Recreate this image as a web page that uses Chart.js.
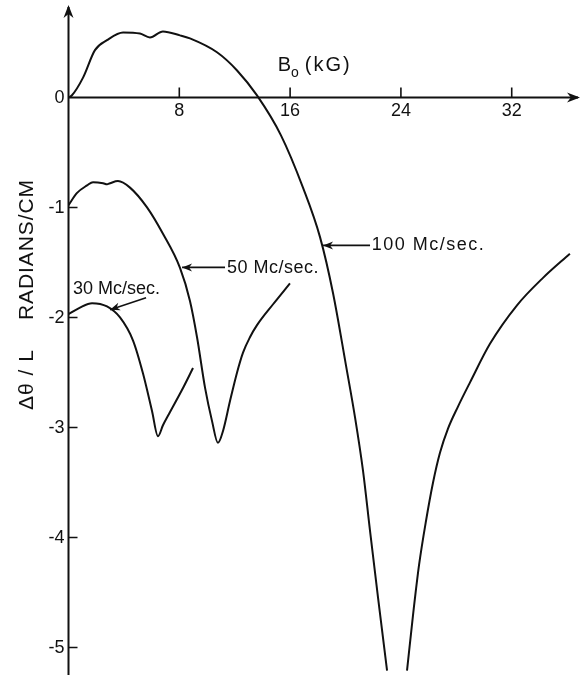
<!DOCTYPE html>
<html>
<head>
<meta charset="utf-8">
<script src="https://cdn.jsdelivr.net/npm/chart.js@4"></script>
<style>
  html, body { margin: 0; padding: 0; background: #fff; }
  canvas { display: block; }
</style>
</head>
<body>
<canvas id="chart" width="582" height="679"></canvas>
<script>
// B0 in kG against rotation per unit length (radians/cm)
const b30 = [0, 0.83, 1.7, 2.78, 3.72, 4.66, 5.38, 6.03, 6.46, 6.82, 7.33, 8.19, 8.99];
const rot30 = [-1.97, -1.91, -1.87, -1.9, -2.0, -2.21, -2.51, -2.85, -3.08, -2.98, -2.86, -2.66, -2.46];

const b50 = [0, 0.6, 1.34, 1.77, 2.5, 2.78, 3.0, 3.57, 4.44, 5.67, 6.82, 8.05, 8.77, 9.28, 9.86, 10.36, 10.79, 11.16, 11.66, 12.17, 12.6, 13.1, 13.61, 14.77, 15.99];
const rot50 = [-0.98, -0.87, -0.8, -0.77, -0.78, -0.79, -0.78, -0.76, -0.82, -1.0, -1.24, -1.55, -1.85, -2.18, -2.64, -2.94, -3.14, -3.03, -2.76, -2.5, -2.32, -2.18, -2.07, -1.88, -1.69];

// null marks the break where the curve runs off the bottom
const b100 = [0, 0.25, 1.05, 1.91, 2.78, 3.94, 5.16, 5.88, 6.82, 8.05, 8.77, 10.72, 12.17, 13.61, 15.34, 16.93, 18.16, 19.1, 20.04, 20.69, 21.26, 21.77, 22.35, 23.0, 23.7, 24.44, 24.87, 25.31, 25.81, 26.32, 26.82, 27.4, 28.12, 28.99, 30.43, 32.38, 34.26, 36.2];
const rot100 = [0, 0.02, 0.18, 0.43, 0.52, 0.59, 0.58, 0.545, 0.6, 0.564, 0.536, 0.41, 0.245, 0.018, -0.345, -0.82, -1.27, -1.78, -2.44, -2.91, -3.39, -3.94, -4.55, -5.21, null, -5.21, -4.71, -4.25, -3.85, -3.5, -3.23, -3.01, -2.81, -2.59, -2.24, -1.89, -1.64, -1.42];

const xTicks = [8, 16, 24, 32];
const yTicks = [0, -1, -2, -3, -4, -5];

// curve labels: text anchor and leader arrow, in data units
const curveLabels = [
  { text: '30 Mc/sec.', at: [0.33, -1.74], from: [5.6, -1.82], to: [3.0, -1.93], spacing: 0 },
  { text: '50 Mc/sec.', at: [11.45, -1.555], from: [11.3, -1.545], to: [8.2, -1.545], spacing: 0.5 },
  { text: '100 Mc/sec.', at: [21.9, -1.345], from: [21.77, -1.345], to: [18.38, -1.345], spacing: 1.5 }
];

const ink = '#111';
const font = '"Liberation Sans", Arial, sans-serif';

function points(xs, ys) {
  return xs.map((x, i) => ({ x: x, y: ys[i] }));
}

function arrowHead(ctx, x, y, angle, len, half) {
  ctx.save();
  ctx.translate(x, y);
  ctx.rotate(angle);
  ctx.beginPath();
  ctx.moveTo(0, 0);
  ctx.lineTo(-len, -half);
  ctx.lineTo(-len * 0.7, 0);
  ctx.lineTo(-len, half);
  ctx.closePath();
  ctx.fill();
  ctx.restore();
}

// write text so that it fills a given length, by spreading the letters
function fitText(ctx, text, x, y, len) {
  ctx.letterSpacing = '0px';
  const w = ctx.measureText(text).width;
  ctx.letterSpacing = ((len - w) / (text.length - 1)) + 'px';
  ctx.fillText(text, x, y);
  ctx.letterSpacing = '0px';
}

const axesPlugin = {
  id: 'hand-axes',
  afterDatasetsDraw(chart) {
    const ctx = chart.ctx;
    const xs = chart.scales.x, ys = chart.scales.y;
    const area = chart.chartArea;
    const x0 = xs.getPixelForValue(0), y0 = ys.getPixelForValue(0);
    ctx.save();
    ctx.strokeStyle = ink;
    ctx.fillStyle = ink;
    ctx.lineWidth = 2;

    // axis lines
    ctx.beginPath();
    ctx.moveTo(x0, area.bottom);
    ctx.lineTo(x0, area.top + 2);
    ctx.moveTo(x0, y0);
    ctx.lineTo(area.right - 2, y0);
    ctx.stroke();
    arrowHead(ctx, x0, area.top, -Math.PI / 2, 13, 5);
    arrowHead(ctx, area.right, y0, 0, 13, 5);

    // ticks
    ctx.lineWidth = 1.6;
    ctx.beginPath();
    xTicks.forEach(v => {
      const px = xs.getPixelForValue(v);
      ctx.moveTo(px, y0);
      ctx.lineTo(px, y0 - 10);
    });
    yTicks.slice(1).forEach(v => {
      const py = ys.getPixelForValue(v);
      ctx.moveTo(x0, py);
      ctx.lineTo(x0 + 9, py);
    });
    ctx.stroke();

    ctx.font = '18px ' + font;
    ctx.textAlign = 'center';
    ctx.textBaseline = 'top';
    xTicks.forEach(v => ctx.fillText(String(v), xs.getPixelForValue(v), y0 + 5));
    ctx.textAlign = 'right';
    ctx.textBaseline = 'middle';
    yTicks.forEach(v => {
      const label = v === 0 ? '0' : '-' + String(-v);
      ctx.fillText(label, x0 - 4, ys.getPixelForValue(v) + 1);
    });

    // x axis title, B with subscript o
    const tx = xs.getPixelForValue(15.1), ty = ys.getPixelForValue(0.29);
    ctx.textAlign = 'left';
    ctx.font = '20px ' + font;
    ctx.fillText('B', tx, ty);
    let w = ctx.measureText('B').width;
    ctx.font = '14px ' + font;
    ctx.fillText('o', tx + w, ty + 8);
    w += ctx.measureText('o').width + 6;
    ctx.font = '20px ' + font;
    ctx.letterSpacing = '2px';
    ctx.fillText('(kG)', tx + w, ty);
    ctx.letterSpacing = '0px';

    // y axis title, rotated
    ctx.save();
    ctx.translate(27, 410);
    ctx.rotate(-Math.PI / 2);
    ctx.font = '21px ' + font;
    ctx.textAlign = 'left';
    ctx.textBaseline = 'middle';
    fitText(ctx, '\u0394\u03b8 / L', 0, 0, 60);
    fitText(ctx, 'RADIANS/CM', 90, 0, 140);
    ctx.restore();

    // curve labels with leader arrows
    ctx.font = '18px ' + font;
    ctx.lineWidth = 1.6;
    ctx.textBaseline = 'middle';
    curveLabels.forEach(l => {
      ctx.textAlign = 'left';
      ctx.letterSpacing = l.spacing + 'px';
      ctx.fillText(l.text, xs.getPixelForValue(l.at[0]), ys.getPixelForValue(l.at[1]));
      ctx.letterSpacing = '0px';
      const fx = xs.getPixelForValue(l.from[0]), fy = ys.getPixelForValue(l.from[1]);
      const px = xs.getPixelForValue(l.to[0]), py = ys.getPixelForValue(l.to[1]);
      ctx.beginPath();
      ctx.moveTo(fx, fy);
      ctx.lineTo(px, py);
      ctx.stroke();
      arrowHead(ctx, px, py, Math.atan2(py - fy, px - fx), 10, 4);
    });
    ctx.restore();
  }
};

const line = {
  showLine: true,
  borderColor: ink,
  borderWidth: 2,
  pointRadius: 0,
  fill: false,
  cubicInterpolationMode: 'monotone',
  spanGaps: false
};

new Chart(document.getElementById('chart'), {
  type: 'scatter',
  data: {
    datasets: [
      Object.assign({ label: '30 Mc/sec.', data: points(b30, rot30) }, line),
      Object.assign({ label: '50 Mc/sec.', data: points(b50, rot50) }, line),
      Object.assign({ label: '100 Mc/sec.', data: points(b100, rot100) }, line)
    ]
  },
  options: {
    responsive: false,
    animation: false,
    devicePixelRatio: 1,
    layout: { padding: { left: 68.5, right: 2, top: 5, bottom: 4 } },
    plugins: { legend: { display: false }, tooltip: { enabled: false } },
    scales: {
      x: { type: 'linear', min: 0, max: 36.93, display: false },
      y: { type: 'linear', min: -5.25, max: 0.84, display: false }
    }
  },
  plugins: [axesPlugin]
});
</script>
</body>
</html>
